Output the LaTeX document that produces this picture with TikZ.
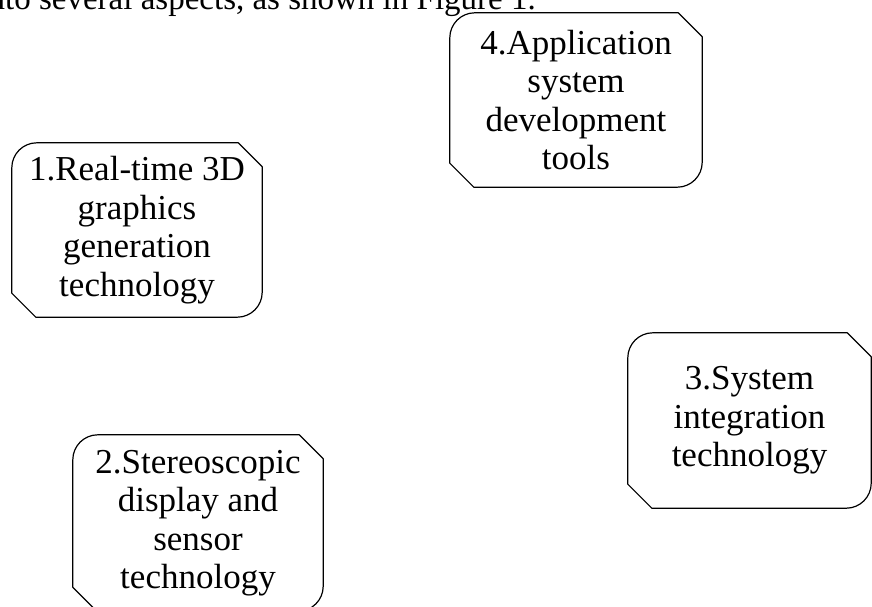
\documentclass[tikz,border=0pt]{standalone}
\usepackage{fontspec}
\setmainfont{Liberation Serif}
\tikzset{
  boxline/.style={draw=black, line width=1.2pt, line join=round},
  boxtext/.style={shape=rectangle, inner sep=0pt, align=center,
    font=\fontsize{35}{38.5}\selectfont},
}
% Box with rounded top-left / bottom-right corners and cut top-right / bottom-left corners
\newcommand\cutbox[1]{%
  \draw[boxline] ([yshift=-24pt]#1.north east) -- ([xshift=-24pt]#1.north east)
    -- ([xshift=25pt]#1.north west) arc[start angle=90, end angle=180, radius=25pt]
    -- ([yshift=24pt]#1.south west) -- ([xshift=24pt]#1.south west)
    -- ([xshift=-25pt]#1.south east) arc[start angle=-90, end angle=0, radius=25pt]
    -- cycle;}
\begin{document}
\begin{tikzpicture}[x=1pt, y=1pt]
  \useasboundingbox (0,0) rectangle (872,606);
  \clip (0,0) rectangle (872,606);

  % running text line above the figure
  \node[anchor=base east, inner sep=0pt, font=\fontsize{33}{38}\selectfont]
    (intro) at (536,596) {into several aspects, as shown in Figure 1.};

  \node[boxtext, minimum width=252pt, minimum height=174pt] (b4) at (576,506)
    {4.Application\\system\\development\\tools};
  \node[boxtext, minimum width=250pt, minimum height=174pt] (b1) at (137,376)
    {1.Real-time 3D\\graphics\\generation\\technology};
  \node[boxtext, minimum width=243pt, minimum height=175pt] (b3) at (749.5,185.5)
    {3.System\\integration\\technology};
  \node[boxtext, minimum width=250pt, minimum height=176pt] (b2) at (198,83)
    {2.Stereoscopic\\display and\\sensor\\technology};

  \cutbox{b4}
  \cutbox{b1}
  \cutbox{b3}
  \cutbox{b2}
\end{tikzpicture}
\end{document}
